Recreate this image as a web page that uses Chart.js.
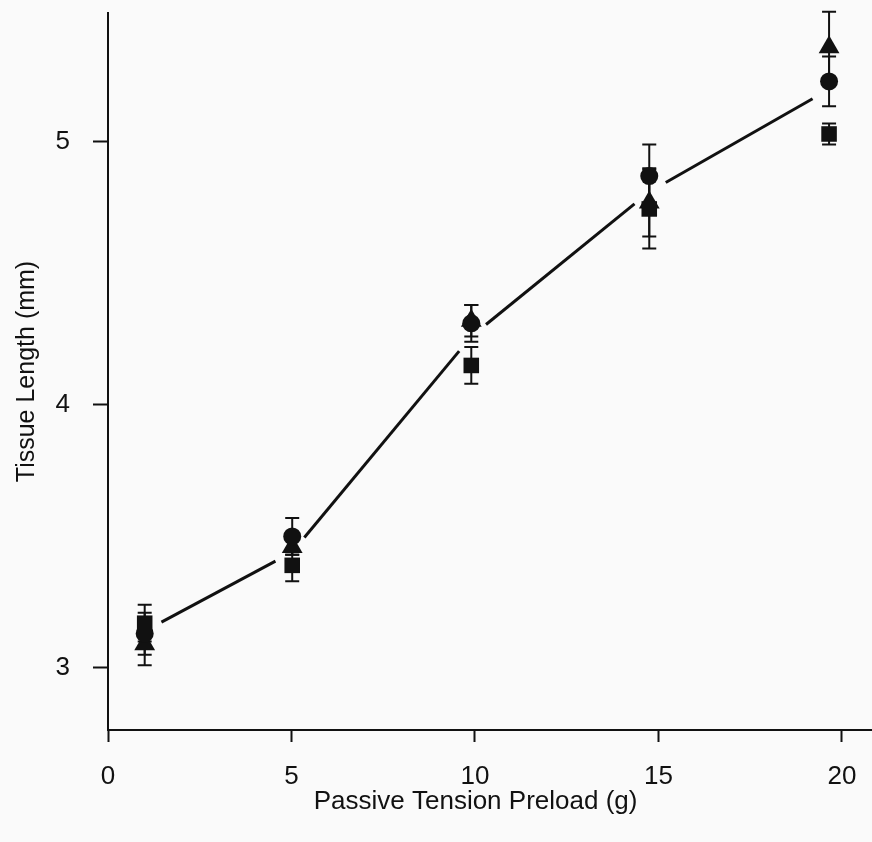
<!DOCTYPE html>
<html><head><meta charset="utf-8">
<script src="https://cdn.jsdelivr.net/npm/chart.js@4/dist/chart.umd.min.js"></script>
<style>html,body{margin:0;padding:0;background:#fafafa;} #wrap{width:872px;height:842px;}</style>
</head><body><div id="wrap"><canvas id="c" width="872" height="842"></canvas></div>
<script>
// ---- data ----
const preloadG = [1, 5.02, 9.9, 14.75, 19.65];           // Passive Tension Preload (g)
const circleLength = [3.13, 3.50, 4.31, 4.87, 5.23];     // Tissue Length (mm)
const circleErr    = [0.08, 0.07, 0.07, 0.12, 0.095];
const squareLength = [3.17, 3.39, 4.15, 4.745, 5.03];
const squareErr    = [0.07, 0.06, 0.07, 0.15, 0.04];
const triangleLength = [3.09, 3.46, 4.32, 4.77, 5.36];
const triangleErr    = [0.08, 0.03, 0.06, 0.13, 0.135];
const meanLength = [3.14, 3.44, 4.26, 4.81, 5.20];
const xTickValues = [0, 5, 10, 15, 20];
const yTickValues = [3, 4, 5];
const xTitle = 'Passive Tension Preload (g)    ';
const yTitle = 'Tissue Length (mm)';

const INK = '#111';
const FONT = "'Liberation Sans', Arial, Helvetica, sans-serif";

function pts(ys, errs) {
  return preloadG.map((x, i) => ({x: x, y: ys[i], err: errs ? errs[i] : 0}));
}

const errorBarPlugin = {
  id: 'errorBars',
  beforeDatasetsDraw(chart) {
    const ctx = chart.ctx, xs = chart.scales.x, ys = chart.scales.y;
    ctx.save();
    ctx.strokeStyle = INK;
    ctx.lineWidth = 2;
    chart.data.datasets.forEach(ds => {
      if (!ds.errorBars) return;
      ds.data.forEach(p => {
        const px = xs.getPixelForValue(p.x);
        const top = ys.getPixelForValue(p.y + p.err);
        const bot = ys.getPixelForValue(p.y - p.err);
        ctx.beginPath();
        ctx.moveTo(px, top); ctx.lineTo(px, bot);
        ctx.moveTo(px - 7, top); ctx.lineTo(px + 7, top);
        ctx.moveTo(px - 7, bot); ctx.lineTo(px + 7, bot);
        ctx.stroke();
      });
    });
    ctx.restore();
  }
};

const gapLinePlugin = {
  id: 'gapLine',
  beforeDatasetsDraw(chart) {
    const ctx = chart.ctx, xs = chart.scales.x, ys = chart.scales.y;
    chart.data.datasets.forEach(ds => {
      if (!ds.gapLine) return;
      const p = ds.data.map(d => [xs.getPixelForValue(d.x), ys.getPixelForValue(d.y)]);
      ctx.save();
      ctx.strokeStyle = INK;
      ctx.lineWidth = 3;
      ctx.lineCap = 'butt';
      const gap = 19;
      for (let i = 0; i < p.length - 1; i++) {
        const dx = p[i+1][0] - p[i][0], dy = p[i+1][1] - p[i][1];
        const L = Math.hypot(dx, dy), ux = dx / L, uy = dy / L;
        ctx.beginPath();
        ctx.moveTo(p[i][0] + ux * gap, p[i][1] + uy * gap);
        ctx.lineTo(p[i+1][0] - ux * gap, p[i+1][1] - uy * gap);
        ctx.stroke();
      }
      ctx.restore();
    });
  }
};

new Chart(document.getElementById('c'), {
  type: 'scatter',
  data: {
    datasets: [
      {label: 'square', data: pts(squareLength, squareErr), errorBars: true,
       pointStyle: 'rect', pointRadius: 11, backgroundColor: INK, borderColor: INK, borderWidth: 0},
      {label: 'circle', data: pts(circleLength, circleErr), errorBars: true,
       pointStyle: 'circle', pointRadius: 9, backgroundColor: INK, borderColor: INK, borderWidth: 0},
      {label: 'triangle', data: pts(triangleLength, triangleErr), errorBars: true,
       pointStyle: 'triangle', pointRadius: 12, backgroundColor: INK, borderColor: INK, borderWidth: 0},
      {label: 'mean', data: pts(meanLength, null), gapLine: true,
       pointRadius: 0, showLine: false, borderColor: 'rgba(0,0,0,0)', backgroundColor: 'rgba(0,0,0,0)'}
    ]
  },
  options: {
    responsive: false,
    devicePixelRatio: 1,
    animation: false,
    events: [],
    layout: {autoPadding: false, padding: {top: 13, right: 0, left: 0, bottom: 0}},
    plugins: {legend: {display: false}, tooltip: {enabled: false}},
    scales: {
      x: {
        type: 'linear', min: 0, max: 20.82,
        afterFit: s => { s.height = 112; s.paddingLeft = 0; s.paddingRight = 0; },
        afterBuildTicks: s => { s.ticks = xTickValues.map(v => ({value: v})); },
        grid: {drawOnChartArea: false, drawTicks: true, tickLength: 12, tickWidth: 2, tickColor: INK},
        border: {display: true, color: INK, width: 2},
        ticks: {color: INK, padding: 19, font: {family: FONT, size: 26}, maxRotation: 0, autoSkip: false},
        title: {display: true, text: xTitle, color: INK, font: {family: FONT, size: 26}, padding: {top: 0, bottom: 25}}
      },
      y: {
        type: 'linear', min: 2.764, max: 5.49,
        afterFit: s => { s.width = 108; s.paddingTop = 0; s.paddingBottom = 0; },
        afterBuildTicks: s => { s.ticks = yTickValues.map(v => ({value: v})); },
        grid: {drawOnChartArea: false, drawTicks: true, tickLength: 15, tickWidth: 2, tickColor: INK},
        border: {display: true, color: INK, width: 2},
        ticks: {color: INK, padding: 23, font: {family: FONT, size: 26}},
        title: {display: true, text: yTitle, color: INK, font: {family: FONT, size: 25}, padding: {top: 12, bottom: 0}}
      }
    }
  },
  plugins: [gapLinePlugin, errorBarPlugin]
});
</script>
</body></html>
